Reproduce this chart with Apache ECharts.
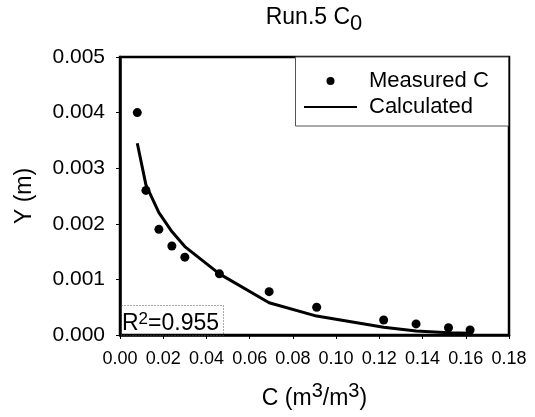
<!DOCTYPE html>
<html>
<head>
<meta charset="utf-8">
<script src="https://cdn.jsdelivr.net/npm/echarts@6/dist/echarts.min.js"></script>
<style>html,body{margin:0;padding:0;background:#fff}#c{width:535px;height:417px}</style>
</head>
<body>
<div id="c"></div>
<script>
// Data
const concentration = [0.008, 0.012, 0.018, 0.024, 0.030, 0.046, 0.069, 0.091, 0.122, 0.137, 0.152, 0.162];
const measuredY = [0.0040, 0.0026, 0.0019, 0.0016, 0.0014, 0.0011, 0.00078, 0.00050, 0.00027, 0.00020, 0.00013, 0.00009];
const calculatedY = [0.00345, 0.0027, 0.0022, 0.00186, 0.00159, 0.00110, 0.00058, 0.00034, 0.00014, 0.00007, 0.00004, 0.00003];
const seriesNames = ['Measured C', 'Calculated'];
const titleText = 'Run.5 C';
const titleSub = '0';
const r2Text = '=0.955';

const FONT = 'Liberation Sans, Arial, sans-serif';
const chart = echarts.init(document.getElementById('c'), null, {renderer: 'canvas'});

const measuredData = concentration.map((x, i) => [x, measuredY[i]]);
const calcData = concentration.map((x, i) => [x, calculatedY[i]]);

const option = {
  backgroundColor: '#fff',
  animation: false,
  textStyle: {fontFamily: FONT, color: '#000'},
  grid: {left: 120, top: 57, right: 26, bottom: 82, show: true, borderColor: '#000', borderWidth: 2.5, backgroundColor: 'transparent'},
  legend: {
    orient: 'vertical', left: 303, top: 68, padding: 0, itemGap: 0,
    itemWidth: 53, itemHeight: 8,
    textStyle: {fontFamily: FONT, fontSize: 22, color: '#000', lineHeight: 26, padding: [0, 0, 0, 7]},
    data: [
      {name: seriesNames[0], icon: 'circle', itemStyle: {color: '#000', opacity: 1}},
      {name: seriesNames[1], itemStyle: {color: 'rgba(0,0,0,0)', borderWidth: 0, opacity: 0}}
    ]
  },
  xAxis: {
    type: 'value', min: 0, max: 0.18, interval: 0.02,
    name: '{n|C (m}{s|3}{n|/m}{s|3}{n|)}',
    nameLocation: 'middle', nameGap: 46,
    nameTextStyle: {
      rich: {
        n: {fontFamily: FONT, fontSize: 23, color: '#000', lineHeight: 36},
        s: {fontFamily: FONT, fontSize: 20, color: '#000', lineHeight: 20, verticalAlign: 'top'}
      }
    },
    axisLine: {lineStyle: {color: '#000', width: 2.5}},
    axisTick: {show: true, length: 4, lineStyle: {color: '#000', width: 1}},
    axisLabel: {fontFamily: FONT, fontSize: 18, color: '#000', margin: 15, formatter: v => v.toFixed(2)},
    splitLine: {show: false}
  },
  yAxis: {
    type: 'value', min: 0, max: 0.005, interval: 0.001,
    name: 'Y (m)', nameLocation: 'middle', nameGap: 84,
    nameTextStyle: {fontFamily: FONT, fontSize: 23, color: '#000'},
    axisLine: {lineStyle: {color: '#000', width: 2.5}},
    axisTick: {show: true, length: 4, lineStyle: {color: '#000', width: 1}},
    axisLabel: {fontFamily: FONT, fontSize: 21, color: '#000', margin: 15, formatter: v => v.toFixed(3)},
    splitLine: {show: false}
  },
  series: [
    {
      name: seriesNames[0], type: 'scatter', data: measuredData,
      symbol: 'circle', symbolSize: 9, itemStyle: {color: '#000', opacity: 1}, z: 5
    },
    {
      name: seriesNames[1], type: 'line', data: calcData,
      showSymbol: false, symbol: 'none', lineStyle: {color: '#000', width: 3}, itemStyle: {color: '#000'}, z: 3
    }
  ],
  graphic: [
    {
      type: 'text', x: 314, y: 18, z: 10,
      style: {
        text: '{n|' + titleText + '}{s|' + titleSub + '}',
        align: 'center', verticalAlign: 'middle',
        rich: {
          n: {fontFamily: FONT, fontSize: 23, fill: '#000', lineHeight: 33},
          s: {fontFamily: FONT, fontSize: 22, fill: '#000', lineHeight: 21, verticalAlign: 'bottom'}
        }
      }
    },
    {
      type: 'rect', z: 1,
      shape: {x: 295.5, y: 57, width: 213, height: 69},
      style: {fill: '#fff', stroke: '#555', lineWidth: 1}
    },
    {
      type: 'rect', z: 1,
      shape: {x: 121.5, y: 305.5, width: 102, height: 30},
      style: {fill: 'none', stroke: '#555', lineWidth: 1, lineDash: [1, 2]}
    },
    {
      type: 'text', x: 122, y: 323.3, z: 10,
      style: {
        text: '{n|R}{s|2}{n|' + r2Text + '}',
        align: 'left', verticalAlign: 'middle',
        rich: {
          n: {fontFamily: FONT, fontSize: 23, fill: '#000', lineHeight: 25},
          s: {fontFamily: FONT, fontSize: 17, fill: '#000', lineHeight: 17, verticalAlign: 'top'}
        }
      }
    }
  ]
};
chart.setOption(option);
</script>
</body>
</html>
